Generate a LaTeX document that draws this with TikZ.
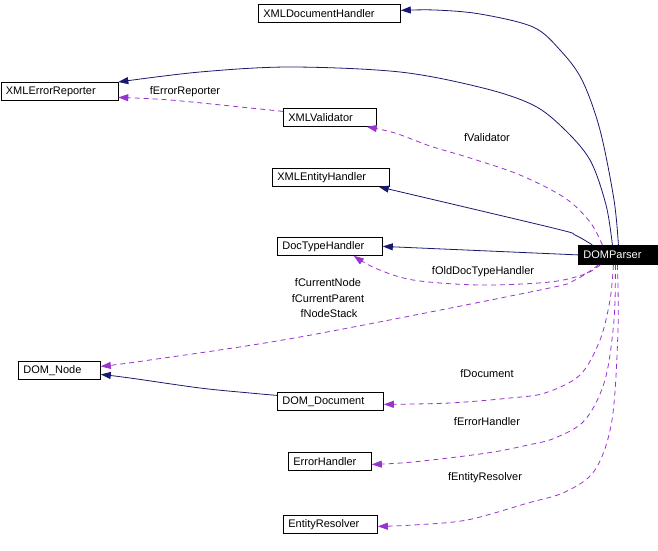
\documentclass[tikz,border=0pt]{standalone}
\usepackage{fontspec}
\setmainfont{Liberation Sans}
\usetikzlibrary{arrows.meta}
\definecolor{edgenavy}{HTML}{191970}
\definecolor{edgepurple}{HTML}{9A32CD}
\begin{document}
\begin{tikzpicture}[x=1pt,y=-1pt,
  box/.style={draw=black, line width=0.8pt, inner xsep=5pt, inner ysep=0pt,
    minimum height=18pt, text width=#1, align=left, anchor=north west,
    font=\fontsize{11}{13}\selectfont},
  lbl/.style={inner sep=0pt, font=\fontsize{11}{13}\selectfont},
  inh/.style={draw=edgenavy, line width=0.8pt, -{Triangle[length=10pt,width=7pt]}},
  use/.style={draw=edgepurple, line width=0.8pt, dash pattern=on 5pt off 4pt,
    -{Triangle[length=10pt,width=7pt]}},
  sm/.style={smooth, tension=0.55}]
\useasboundingbox (0,0) rectangle (658,551);

% nodes
\node[box=132pt] (xdh)  at (258,4)   {XMLDocumentHandler};
\node[box=107pt] (xer)  at (0.5,82)  {XMLErrorReporter};
\node[box=83pt]  (xval) at (283,108) {XMLValidator};
\node[box=107pt] (xeh)  at (272,168) {XMLEntityHandler};
\node[box=95pt]  (dth)  at (277,237) {DocTypeHandler};
\node[box=69pt, fill=black, text=white, minimum height=19pt] (dp) at (578,245) {DOMParser};
\node[box=72pt]  (dn)   at (18,361)  {DOM\_Node};
\node[box=96pt]  (dd)   at (277,392) {DOM\_Document};
\node[box=73pt]  (eh)   at (288,452) {ErrorHandler};
\node[box=84pt]  (er)   at (283,515) {EntityResolver};

% anchor points on DOMParser
\coordinate (tA) at ([xshift=0.5pt]dp.north);
\coordinate (tB) at ([xshift=-5.5pt]dp.north);
\coordinate (tC) at ([xshift=-15.5pt]dp.north);
\coordinate (tD) at ([xshift=-25.5pt]dp.north);
\coordinate (bA) at ([xshift=-17.5pt]dp.south);
\coordinate (bB) at ([xshift=-19.5pt]dp.south);
\coordinate (bC) at ([xshift=-4.5pt]dp.south);
\coordinate (bD) at ([xshift=-2.5pt]dp.south);
\coordinate (bE) at ([xshift=-0.5pt]dp.south);

% targets
\coordinate (xdhT) at ([yshift=3pt]xdh.east);
\coordinate (xehT) at ([xshift=-11pt]xeh.south east);
\coordinate (xvalT) at ([xshift=-10pt]xval.south east);
\coordinate (xvalS) at ([yshift=6pt]xval.west);
\coordinate (xerT) at ([yshift=-6pt]xer.east);
\coordinate (dthT) at ([xshift=-29pt]dth.south east);
\coordinate (dnT1) at ([yshift=4pt]dn.east);
\coordinate (dnT2) at ([yshift=-4pt]dn.east);
\coordinate (ddS) at ([yshift=6pt]dd.west);
\coordinate (ddT) at ([yshift=-3pt]dd.east);
\coordinate (ehT) at ([yshift=-3pt]eh.east);
\coordinate (erT) at ([yshift=-2pt]er.east);

% inheritance (solid navy)
\draw[inh] plot[sm] coordinates {(tA) (614,200) (600,130) (582,80) (560,50) (533,27) (480,14) (435,10) (xdhT)};
\draw[inh] plot[sm] coordinates {(tB) (606,205) (590,160) (563,128) (533,105) (483,88) (400,72) (290,67) (200,72) (xer.north east)};
\draw[inh] plot[sm] coordinates {(tD) (575,235) (553,228) (xehT)};
\draw[inh] (dp.west) -- (dth.east);
\draw[inh] plot[sm] coordinates {(ddS) (250,393) (200,388) (130,378) (dnT2)};

% usage (dashed purple)
\draw[use] plot[sm] coordinates {(xvalS) (250,108) (170,100) (xerT)};
\draw[use] plot[sm] coordinates {(tC) (590,222) (565,198) (520,175) (470,158) (430,146) (395,133) (xvalT)};
\draw[use] plot[sm] coordinates {(bA) (585,274) (550,282) (480,285) (413,280) (375,268) (dthT)};
\draw[use] plot[sm] coordinates {(bB) (575,280) (540,290) (300,337) (150,360) (dnT1)};
\draw[use] plot[sm] coordinates {(bC) (610,300) (600,340) (580,375) (545,393) (510,398) (450,403) (ddT)};
\draw[use] plot[sm] coordinates {(bD) (614,320) (605,380) (585,420) (555,438) (528,445) (487,453) (413,462) (ehT)};
\draw[use] plot[sm] coordinates {(bE) (618,330) (612,420) (595,470) (565,492) (528,503) (467,520) (413,525) (erT)};

% labels
\node[lbl] (l1) at (185,92)  {fErrorReporter};
\node[lbl] (l2) at (487,138) {fValidator};
\node[lbl] (l3) at (483,272) {fOldDocTypeHandler};
\node[lbl] (l4) at (328,283) {fCurrentNode};
\node[lbl] (l5) at (328,299) {fCurrentParent};
\node[lbl] (l6) at (329,314) {fNodeStack};
\node[lbl] (l7) at (487,374) {fDocument};
\node[lbl] (l8) at (487,422) {fErrorHandler};
\node[lbl] (l9) at (485,478) {fEntityResolver};
\end{tikzpicture}
\end{document}
